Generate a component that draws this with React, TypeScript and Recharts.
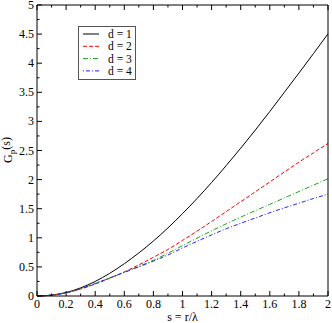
import React from 'react';
import { LineChart, Line, XAxis, YAxis, Legend } from 'recharts';

const sValues = [0, 0.1, 0.2, 0.3, 0.4, 0.5, 0.6, 0.7, 0.8, 0.9, 1.0, 1.1, 1.2, 1.3, 1.4, 1.5, 1.6, 1.7, 1.8, 1.9, 2.0];
const d1 = [0, 0.015, 0.06, 0.14, 0.25, 0.39, 0.555, 0.74, 0.945, 1.17, 1.415, 1.675, 1.95, 2.24, 2.54, 2.85, 3.17, 3.50, 3.83, 4.165, 4.505];
const d2 = [0, 0.015, 0.055, 0.12, 0.205, 0.305, 0.415, 0.535, 0.665, 0.80, 0.955, 1.115, 1.28, 1.45, 1.62, 1.79, 1.96, 2.13, 2.30, 2.46, 2.62];
const d3 = [0, 0.015, 0.055, 0.125, 0.215, 0.31, 0.41, 0.51, 0.615, 0.735, 0.865, 0.995, 1.12, 1.24, 1.355, 1.465, 1.575, 1.685, 1.795, 1.905, 2.015];
const d4 = [0, 0.015, 0.055, 0.125, 0.215, 0.31, 0.405, 0.50, 0.60, 0.705, 0.825, 0.94, 1.05, 1.155, 1.25, 1.34, 1.43, 1.515, 1.595, 1.675, 1.75];

const xTicks = [0, 0.1, 0.2, 0.3, 0.4, 0.5, 0.6, 0.7, 0.8, 0.9, 1, 1.1, 1.2, 1.3, 1.4, 1.5, 1.6, 1.7, 1.8, 1.9, 2];
const yTicks = [0, 0.25, 0.5, 0.75, 1, 1.25, 1.5, 1.75, 2, 2.25, 2.5, 2.75, 3, 3.25, 3.5, 3.75, 4, 4.25, 4.5, 4.75, 5];
const xLabels = ['0', '0.2', '0.4', '0.6', '0.8', '1', '1.2', '1.4', '1.6', '1.8', '2'];
const yLabels = ['0', '0.5', '1', '1.5', '2', '2.5', '3', '3.5', '4', '4.5', '5'];

const seriesNames = ['d = 1', 'd = 2', 'd = 3', 'd = 4'];
const seriesKeys = ['d1', 'd2', 'd3', 'd4'];
const seriesColors = ['#000000', '#ff0000', '#1fa31f', '#2222ff'];
const seriesDash = ['', '4 2', '5 2 1 2', '1 2 4 2'];

const data = sValues.map((s, i) => ({ s, d1: d1[i], d2: d2[i], d3: d3[i], d4: d4[i] }));

const FONT = 'Liberation Serif, Times New Roman, serif';

const BottomTick = (props: any) => {
  const { x, y, index } = props;
  const major = index % 2 === 0;
  return (
    <g>
      <line x1={x} y1={y} x2={x} y2={y - (major ? 5 : 2.5)} stroke="#000" strokeWidth={1} />
      {major && (
        <text x={x} y={y + 12} textAnchor="middle" fontFamily={FONT} fontSize={12} fill="#000">
          {xLabels[index / 2]}
        </text>
      )}
    </g>
  );
};

const TopTick = (props: any) => {
  const { x, y, index } = props;
  const major = index % 2 === 0;
  return <line x1={x} y1={y} x2={x} y2={y + (major ? 5 : 2.5)} stroke="#000" strokeWidth={1} />;
};

const LeftTick = (props: any) => {
  const { x, y, index } = props;
  const major = index % 2 === 0;
  return (
    <g>
      <line x1={x} y1={y} x2={x + (major ? 5 : 2.5)} y2={y} stroke="#000" strokeWidth={1} />
      {major && (
        <text x={x - 3} y={y + 4} textAnchor="end" fontFamily={FONT} fontSize={12} fill="#000">
          {yLabels[index / 2]}
        </text>
      )}
    </g>
  );
};

const RightTick = (props: any) => {
  const { x, y, index } = props;
  const major = index % 2 === 0;
  return <line x1={x} y1={y} x2={x - (major ? 5 : 2.5)} y2={y} stroke="#000" strokeWidth={1} />;
};

const LegendBox = () => (
  <svg width={59} height={55} style={{ display: 'block' }}>
    <rect x={0.5} y={0.5} width={57} height={53} fill="#fff" stroke="#555" strokeWidth={1} />
    {seriesNames.map((n, i) => {
      const cy = 8 + i * 12.3;
      return (
        <g key={n}>
          <line x1={5} y1={cy} x2={21} y2={cy} stroke={seriesColors[i]} strokeWidth={1} strokeDasharray={seriesDash[i] || undefined} />
          <text x={30} y={cy + 4} fontFamily={FONT} fontSize={11.5} fill="#000">{n}</text>
        </g>
      );
    })}
  </svg>
);

export default function App() {
  return (
    <div style={{ position: 'absolute', left: 0, top: 0, width: 332, height: 323, background: '#fff' }}>
      <LineChart width={332} height={323} data={data} margin={{ top: 0, right: 0, bottom: 0, left: 0 }}>
        <XAxis
          dataKey="s"
          type="number"
          domain={[0, 2]}
          ticks={xTicks}
          interval={0}
          tickSize={0}
          tickMargin={0}
          tick={<BottomTick />}
          height={27}
          axisLine={{ stroke: '#000' }}
          label={{ value: 's = r/λ', position: 'insideBottom', offset: 2, fontFamily: FONT, fontSize: 12, fill: '#000' }}
        />
        <XAxis
          xAxisId="top"
          orientation="top"
          dataKey="s"
          type="number"
          domain={[0, 2]}
          ticks={xTicks}
          interval={0}
          tickSize={0}
          tickMargin={0}
          tick={<TopTick />}
          height={5}
          axisLine={{ stroke: '#000' }}
        />
        <YAxis
          type="number"
          domain={[0, 5]}
          ticks={yTicks}
          interval={0}
          tickSize={0}
          tickMargin={0}
          tick={<LeftTick />}
          width={37}
          axisLine={{ stroke: '#000' }}
          label={() => (
            <text transform="translate(12, 150) rotate(-90)" textAnchor="middle" fontFamily={FONT} fontSize={12} fill="#000">
              G<tspan fontSize={9} dy={3}>p</tspan><tspan dy={-5}>(s)</tspan>
            </text>
          )}
        />
        <YAxis
          yAxisId="right"
          orientation="right"
          type="number"
          domain={[0, 5]}
          ticks={yTicks}
          interval={0}
          tickSize={0}
          tickMargin={0}
          tick={<RightTick />}
          width={4}
          axisLine={{ stroke: '#000' }}
        />
        <Legend
          layout="vertical"
          align="center"
          verticalAlign="middle"
          content={() => <LegendBox />}
          wrapperStyle={{ position: 'absolute', left: 78, top: 26, width: 59, height: 55 }}
        />
        {seriesKeys.map((k, i) => (
          <Line
            key={k}
            dataKey={k}
            name={seriesNames[i]}
            type="monotone"
            stroke={seriesColors[i]}
            strokeWidth={1}
            strokeDasharray={seriesDash[i] || undefined}
            dot={false}
            activeDot={false}
            isAnimationActive={false}
          />
        ))}
      </LineChart>
    </div>
  );
}
